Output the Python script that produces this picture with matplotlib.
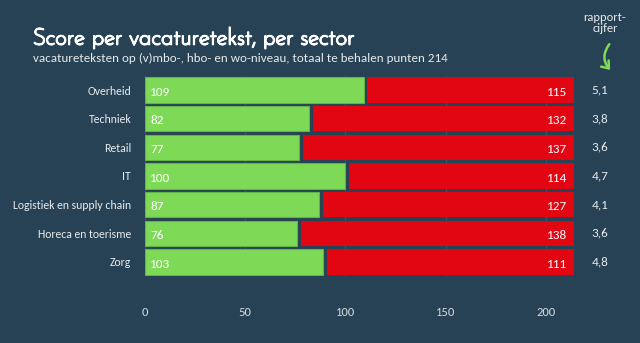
import matplotlib
matplotlib.use('Agg')
import matplotlib.pyplot as plt
import matplotlib.patheffects as pe
from matplotlib.patches import FancyArrowPatch
from matplotlib.transforms import blended_transform_factory

# data
sectoren = ['Overheid', 'Techniek', 'Retail', 'IT', 'Logistiek en supply chain',
            'Horeca en toerisme', 'Zorg']
groen = [109, 82, 77, 100, 87, 76, 103]          # behaalde punten (label)
rood = [115, 132, 137, 114, 127, 138, 111]       # gemiste punten (label)
groen_balk = [109, 82, 77, 100, 87, 76, 89]      # lengte groene balk zoals getekend
rapportcijfer = ['5,1', '3,8', '3,6', '4,7', '4,1', '3,6', '4,8']
totaal = 214
xticks = [0, 50, 100, 150, 200]

bg = '#264254'
green = '#7ed957'
red = '#e20613'
txtcol = '#e6eaec'
body = ['Carlito', 'Open Sans', 'DejaVu Sans']
kop = ['Josefin Sans', 'Open Sans', 'DejaVu Sans']

W, H = 640, 343
fig = plt.figure(figsize=(W / 100, H / 100), dpi=100, facecolor=bg)
ax = fig.add_axes([145 / W, 1 - 276.3 / H, 429 / W, (276.3 - 75.7) / H])
ax.set_facecolor(bg)

y = list(range(len(sectoren)))
gap = 1.7
ax.barh(y, groen_balk, height=0.89, color=green, edgecolor='#62b544',
        linewidth=0.8, zorder=3)
red_left = [g + gap for g in groen_balk]
ax.barh(y, [totaal - l for l in red_left], left=red_left, height=0.89,
        color=red, linewidth=0, zorder=3)

rechts = blended_transform_factory(fig.transFigure, ax.transData)
for i in y:
    ax.text(2.6, i + 0.08, str(groen[i]), color='white', fontsize=9.5,
            family=body, va='center', ha='left', zorder=4)
    ax.text(totaal - 3.3, i + 0.08, str(rood[i]), color='white', fontsize=9.5,
            family=body, va='center', ha='right', zorder=4)
    ax.text(600 / W, i, rapportcijfer[i], transform=rechts, color=txtcol,
            fontsize=9.5, family=body, va='center', ha='center')

ax.set_xlim(0, totaal)
ax.set_ylim(len(sectoren) - 0.5, -0.5)
ax.set_xticks(xticks)
ax.set_yticks(y)
ax.set_yticklabels(sectoren, family=body, fontsize=8.5, color=txtcol)
ax.set_xticklabels([str(t) for t in xticks], family=body, fontsize=9, color='#d4dadd')
ax.tick_params(axis='x', length=0, pad=22)
ax.tick_params(axis='y', length=0, pad=10)
ax.grid(axis='x', color='#3a5566', linewidth=0.8, zorder=0)
for s in ax.spines.values():
    s.set_visible(False)

fig.text(33 / W, 1 - 38 / H, 'Score per vacaturetekst, per sector', color='white',
         fontsize=16.5, fontweight='bold', family=kop, va='center', ha='left',
         path_effects=[pe.withStroke(linewidth=1.3, foreground='white')])
fig.text(33 / W, 1 - 58 / H,
         'vacatureteksten op (v)mbo-, hbo- en wo-niveau, totaal te behalen punten 214',
         color=txtcol, fontsize=9.4, family=body, va='center', ha='left')
fig.text(605 / W, 1 - 23 / H, 'rapport-\ncijfer', color=txtcol, fontsize=9,
         family=body, va='center', ha='center', linespacing=0.95)

arrow = FancyArrowPatch((611, H - 42), (612, H - 72), connectionstyle='arc3,rad=0.45',
                        arrowstyle='->,head_length=4.5,head_width=3.5', color=green,
                        linewidth=1.8, transform=None)
fig.patches.append(arrow)

fig.savefig('out.png', dpi=100, facecolor=bg)
